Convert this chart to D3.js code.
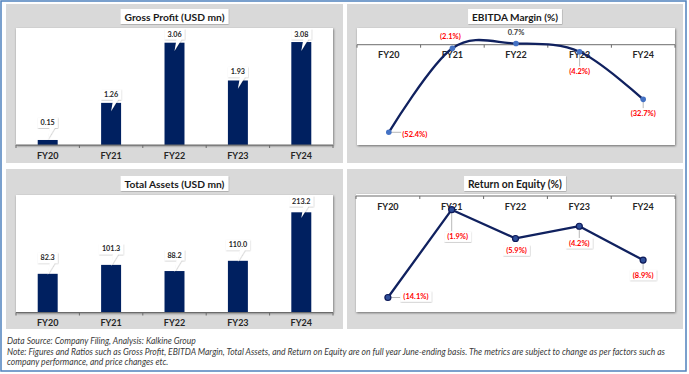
<!DOCTYPE html>
<html><head><meta charset="utf-8">
<script src="https://cdn.jsdelivr.net/npm/d3@7"></script>
<style>
body{margin:0;background:#fff;}
svg{display:block;font-family:Lato,"Open Sans",sans-serif;}
</style>
</head><body>
<svg id="c" width="689" height="374"></svg>
<script>
// ---------- data ----------
const categories = ["FY20", "FY21", "FY22", "FY23", "FY24"];
const grossProfit = [0.15, 1.26, 3.06, 1.93, 3.08];
const totalAssets = [82.3, 101.3, 88.2, 110.0, 213.2];
const ebitdaMargin = [-52.4, -2.1, 0.7, -4.2, -32.7];
const returnOnEquity = [-14.1, -1.9, -5.9, -4.2, -8.9];
const chartTitles = ["Gross Profit (USD mn)", "EBITDA Margin (%)", "Total Assets (USD mn)", "Return on Equity (%)"];
const footnotes = [
  "Data Source: Company Filing, Analysis: Kalkine Group",
  "Note: Figures and Ratios such as Gross Profit, EBITDA Margin, Total Assets, and Return on Equity are on full year June-ending basis. The metrics are subject to change as per factors such as",
  "company performance, and price changes etc."
];

// ---------- setup ----------
const svg = d3.select("#c");
const defs = svg.append("defs");
defs.append("filter").attr("id", "sh").attr("x", "-10%").attr("y", "-20%").attr("width", "125%").attr("height", "150%")
  .append("feDropShadow").attr("dx", 0.6).attr("dy", 1).attr("stdDeviation", 1.3)
  .attr("flood-color", "#000").attr("flood-opacity", 0.5);
defs.append("filter").attr("id", "sh2").attr("x", "-20%").attr("y", "-30%").attr("width", "150%").attr("height", "180%")
  .append("feDropShadow").attr("dx", 0.4).attr("dy", 0.6).attr("stdDeviation", 0.6)
  .attr("flood-color", "#000").attr("flood-opacity", 0.3);

svg.append("rect").attr("x", 1).attr("y", 1).attr("width", 685).attr("height", 370)
  .attr("fill", "#fff").attr("stroke", "#4f81bd").attr("stroke-width", 1.5);

const NAVY = "#002060", LINE = "#10215f", RED = "#ff0000", TXT = "#262626";

function fitText(sel, target) {
  const w = sel.node().getComputedTextLength();
  const fs = parseFloat(sel.attr("font-size"));
  sel.attr("font-size", fs * target / w);
}

function panel(p, title, titleW) {
  svg.append("rect").attr("x", p.x).attr("y", p.y).attr("width", p.w).attr("height", p.h).attr("fill", "#d9d9d9");
  const cx = p.x + p.w / 2;
  const box = svg.append("rect").attr("fill", "#fff").attr("filter", "url(#sh2)");
  const t = svg.append("text").attr("x", cx).attr("y", p.ty + 11.5).attr("text-anchor", "middle")
    .attr("font-size", 11).attr("font-weight", 700).attr("fill", "#1a1a1a").text(title);
  fitText(t, titleW);
  const w = t.node().getComputedTextLength();
  box.attr("x", cx - w / 2 - 4).attr("y", p.ty).attr("width", w + 8).attr("height", 15);
}

function plotBg(pl) {
  svg.append("rect").attr("x", pl.x).attr("y", pl.y).attr("width", pl.w).attr("height", pl.h)
    .attr("fill", "#fff").attr("filter", "url(#sh)");
}

function catAxis(x, axisY) {
  const bounds = categories.map(c => x(c)).concat([x.range()[1]]);
  const g = svg.append("g");
  g.append("line").attr("x1", x.range()[0]).attr("x2", x.range()[1]).attr("y1", axisY).attr("y2", axisY)
    .attr("stroke", "#6b6b6b").attr("stroke-width", 1);
  g.selectAll("line.tk").data(bounds).join("line").attr("class", "tk")
    .attr("x1", d => d).attr("x2", d => d).attr("y1", axisY).attr("y2", axisY + 3)
    .attr("stroke", "#6b6b6b").attr("stroke-width", 1);
  const ax = svg.append("g").attr("transform", `translate(0,${axisY})`)
    .call(d3.axisBottom(x).tickSize(0));
  ax.select(".domain").remove();
  ax.selectAll("text").attr("y", 13.5).attr("dy", null)
    .attr("font-family", "Lato,'Open Sans',sans-serif").attr("font-size", 9).attr("font-weight", 700).attr("fill", TXT);
}

function barChart(pl, values, max, fmt, gap) {
  plotBg(pl);
  const x = d3.scaleBand().domain(categories).range([pl.x, pl.x + pl.w]);
  const y = d3.scaleLinear().domain([0, max]).range([pl.y + pl.h, pl.y]);
  const bw = x.bandwidth() * 0.315;
  const cx = i => x(categories[i]) + x.bandwidth() / 2;
  svg.append("g").selectAll("rect").data(values).join("rect")
    .attr("x", (d, i) => cx(i) - bw / 2).attr("width", bw)
    .attr("y", d => y(d)).attr("height", d => y(0) - y(d)).attr("fill", NAVY);
  catAxis(x, y(0));
  // callout labels
  values.forEach((v, i) => {
    const top = y(v);
    const bottom = Math.max(Math.min(top - gap, y(0) - 17), pl.y + 11.5);
    const g = svg.append("g");
    const path = g.append("path").attr("fill", "#fff").attr("filter", "url(#sh2)");
    const t = g.append("text").attr("x", cx(i)).attr("y", bottom - 3).attr("text-anchor", "middle")
      .attr("font-size", 7.2).attr("font-weight", 700).attr("fill", TXT).text(fmt(v));
    const w = t.node().getComputedTextLength() + 6, h = 10.5;
    const L = cx(i) - w / 2, R = cx(i) + w / 2, T = bottom - h, c = cx(i);
    const tipY = bottom + 11.5;
    path.attr("d", `M${L},${T}H${R}V${bottom}H${c + 7}L${c},${tipY}L${c + 2},${bottom}H${L}Z`);
  });
}

const pctFmt = v => v < 0 ? `(${Math.abs(v).toFixed(1)}%)` : `${v.toFixed(1)}%`;

function lineChart(pl, values, domain, range, curve, markerStyle, offsets, leaders, boxed) {
  plotBg(pl);
  const x = d3.scaleBand().domain(categories).range([pl.x, pl.x + pl.w]);
  const y = d3.scaleLinear().domain(domain).range(range);
  const px = i => x(categories[i]) + x.bandwidth() / 2;
  catAxis(x, y(0));
  const line = d3.line().x((d, i) => px(i)).y(d => y(d)).curve(curve);
  svg.append("path").datum(values).attr("d", line).attr("fill", "none")
    .attr("stroke", LINE).attr("stroke-width", 2.3).attr("stroke-linejoin", "round");
  const lg = svg.append("g");
  const mg = svg.append("g");
  values.forEach((v, i) => {
    const p = [px(i), y(v)];
    const lx = p[0] + offsets[i][0], ly = p[1] + offsets[i][1];
    const g = lg.append("g");
    const box = g.append("rect").attr("fill", "#fff");
    const t = g.append("text").attr("x", lx).attr("y", ly + 2.7).attr("text-anchor", "middle")
      .attr("font-size", 7.5).attr("font-weight", 700).attr("fill", v < 0 ? RED : "#404040").text(pctFmt(v));
    const w = t.node().getComputedTextLength() + (boxed ? 6 : 2), h = 10.5;
    if (boxed) box.attr("x", lx - w / 2).attr("y", ly - h / 2).attr("width", w).attr("height", h).attr("filter", "url(#sh2)");
    else box.remove();
    if (leaders[i]) {
      const ex = Math.max(lx - w / 2, Math.min(p[0], lx + w / 2));
      const ey = Math.max(ly - h / 2, Math.min(p[1], ly + h / 2));
      g.insert("line", ":first-child").attr("x1", p[0]).attr("y1", p[1]).attr("x2", ex).attr("y2", ey)
        .attr("stroke", "#a6a6a6").attr("stroke-width", 0.8);
    }
    mg.append("circle").attr("cx", p[0]).attr("cy", p[1]).attr("r", markerStyle.r)
      .attr("fill", markerStyle.fill).attr("stroke", markerStyle.stroke || "none").attr("stroke-width", markerStyle.sw || 0);
  });
}

// ---------- panels ----------
panel({x: 6, y: 4, w: 337, h: 159, ty: 9}, chartTitles[0], 100);
panel({x: 347, y: 4, w: 336, h: 159, ty: 9}, chartTitles[1], 86);
panel({x: 6, y: 169, w: 337, h: 160, ty: 176}, chartTitles[2], 100);
panel({x: 347, y: 169, w: 336, h: 160, ty: 176}, chartTitles[3], 94);

barChart({x: 16, y: 28, w: 317, h: 117}, grossProfit, 3.5, d3.format(".2f"), 3.2);
barChart({x: 16, y: 195, w: 317, h: 117.5}, totalAssets, 250, d3.format(".1f"), 10.5);

lineChart({x: 357, y: 28, w: 318, h: 117}, ebitdaMargin, [10, -60], [28, 145],
  d3.curveCardinal.tension(0), {r: 2.8, fill: "#4472c4"},
  [[26, 2], [-2, -12], [0, -11], [0, 20], [0, 14]], [true, false, false, true, true], false);

lineChart({x: 356, y: 194, w: 319, h: 118}, returnOnEquity, [0, -16], [196, 311.2],
  d3.curveLinear, {r: 3, fill: "#2f4f99", stroke: "#0d1a5a", sw: 1.2},
  [[28, -1], [6, 27], [1, 12], [0, 17], [0, 15]], [true, true, false, true, true], true);

// ---------- footnotes ----------
const fy = [344.3, 354.8, 365.2];
const fn = svg.append("g").attr("font-style", "italic").attr("fill", "#3a3a3a");
const noteT = fn.append("text").attr("x", 7).attr("y", fy[1]).attr("font-size", 8).text(footnotes[1]);
fitText(noteT, 659);
const fs = noteT.attr("font-size");
fn.append("text").attr("x", 7).attr("y", fy[0]).attr("font-size", fs).text(footnotes[0]);
fn.append("text").attr("x", 7).attr("y", fy[2]).attr("font-size", fs).text(footnotes[2]);
</script>
</body></html>
